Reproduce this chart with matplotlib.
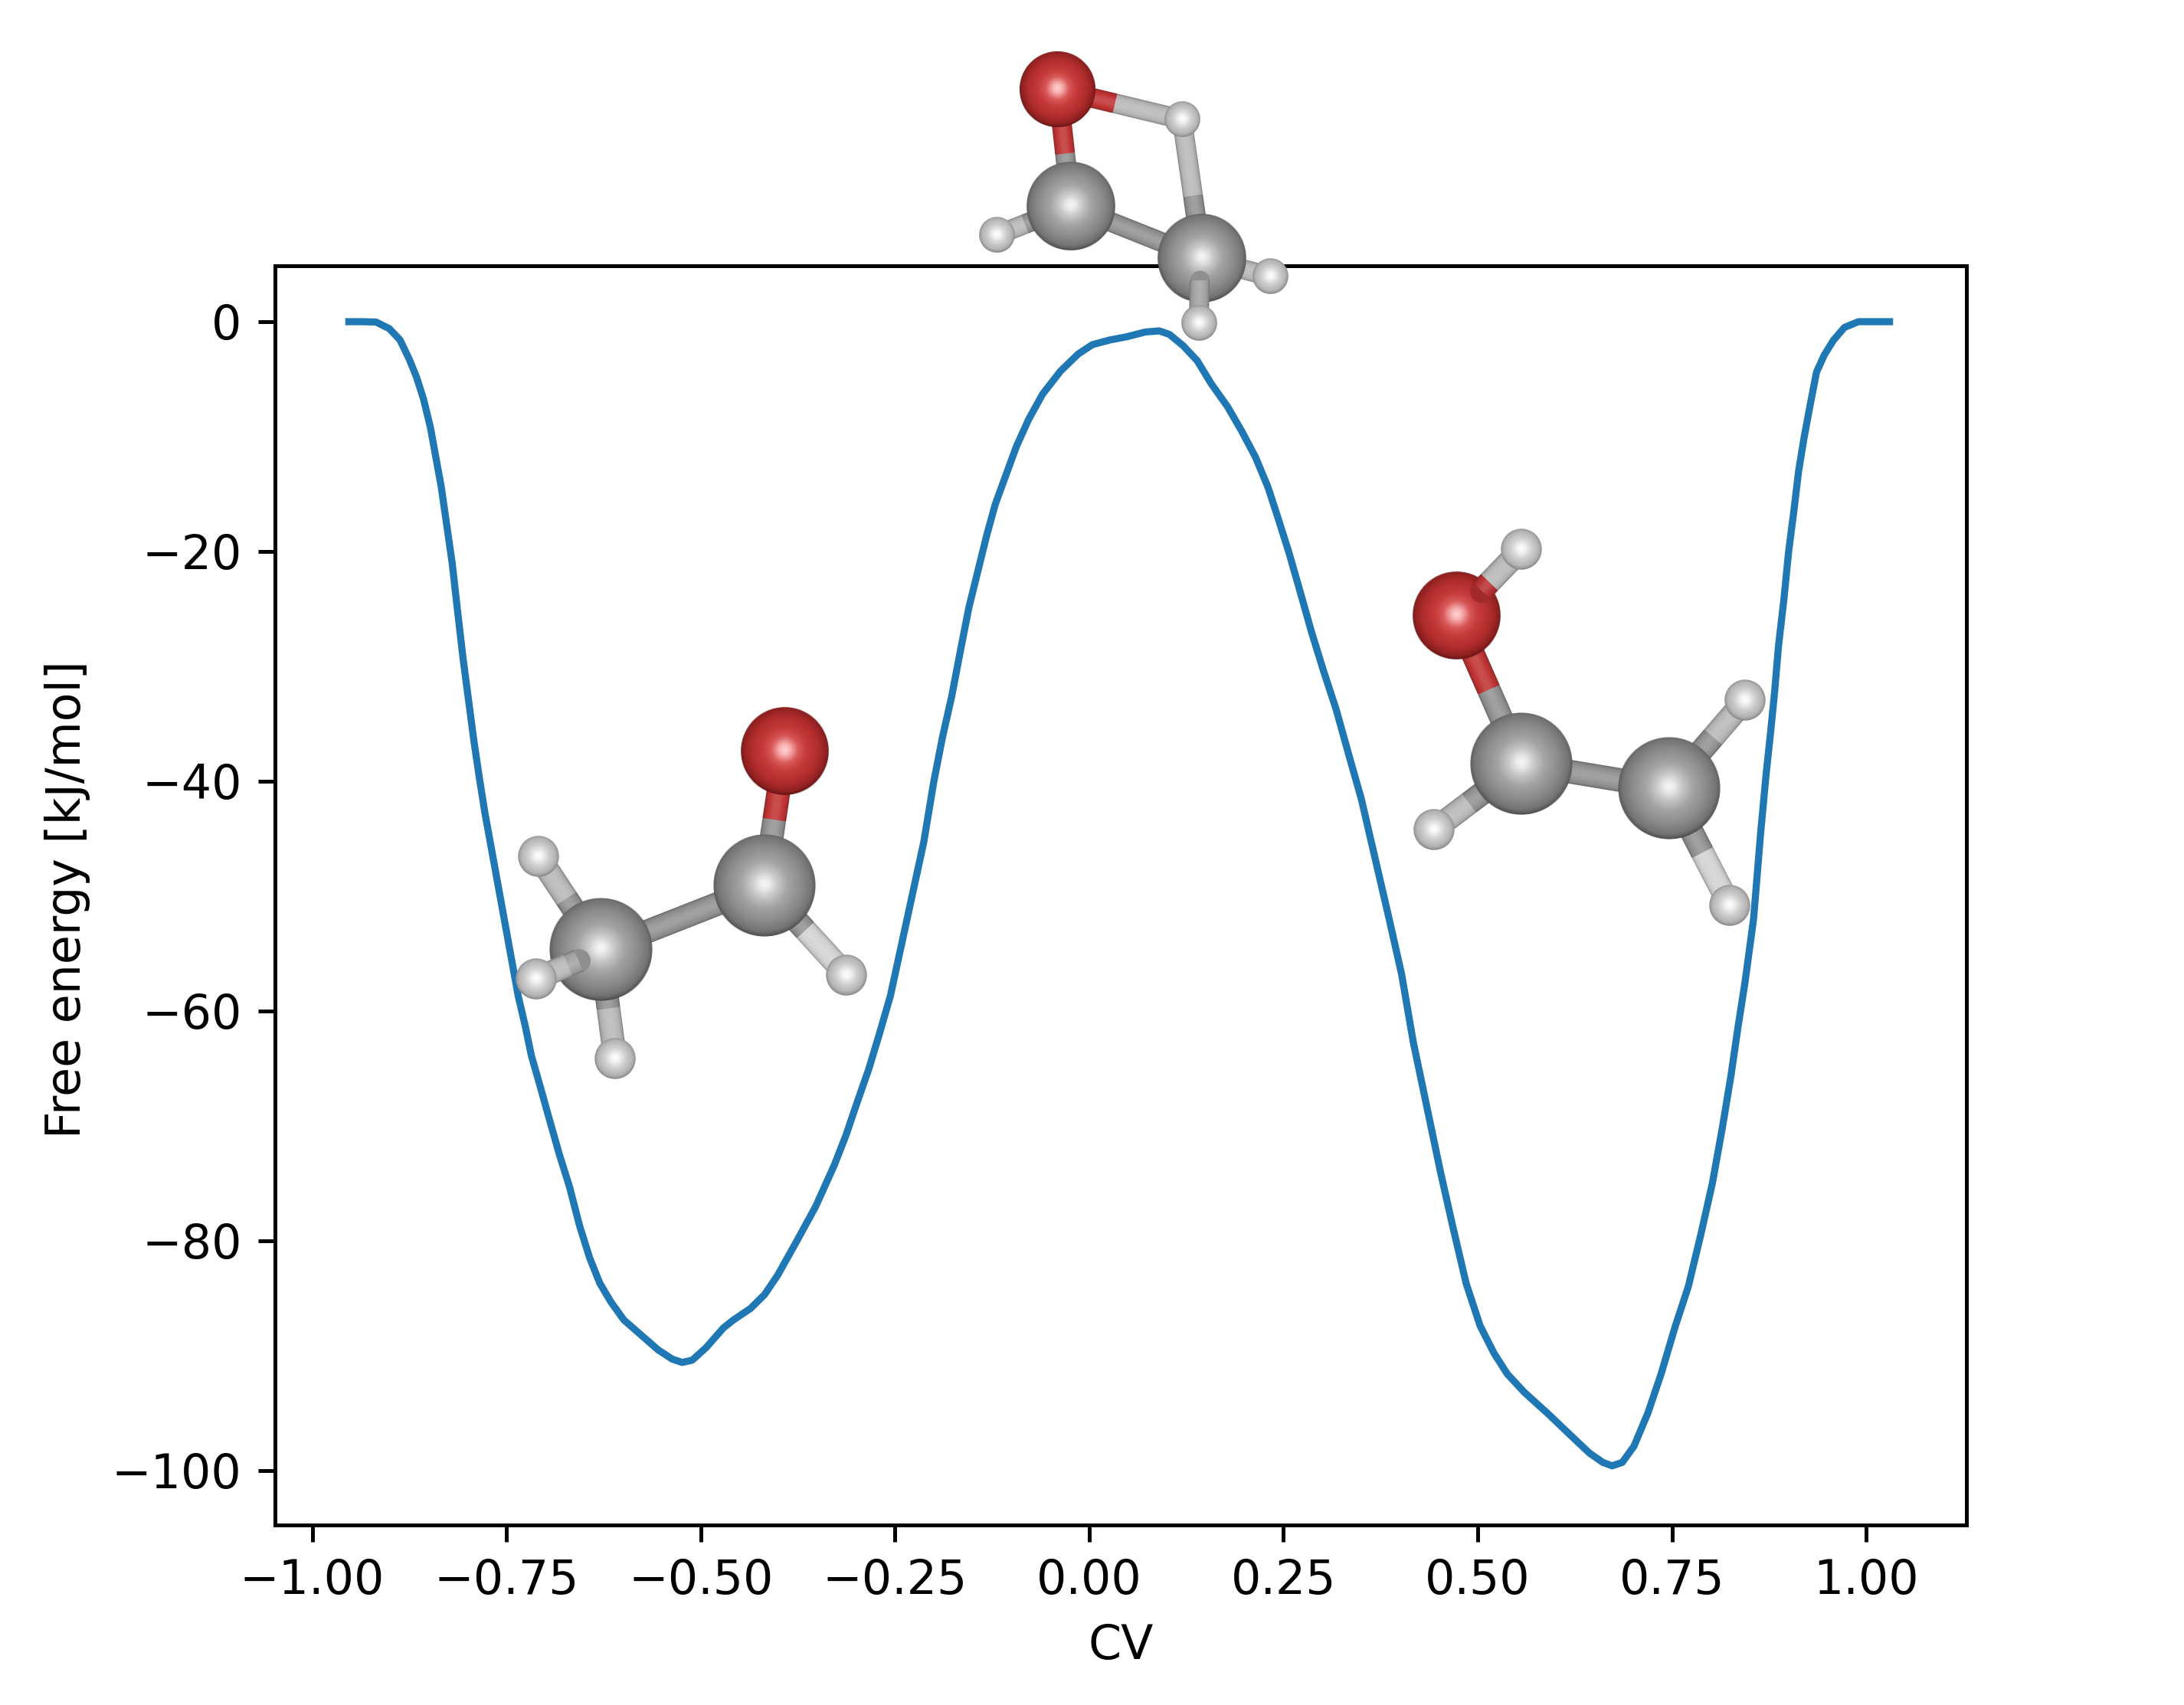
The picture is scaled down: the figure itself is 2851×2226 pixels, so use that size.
import numpy as np
import matplotlib
matplotlib.use('Agg')
import matplotlib.pyplot as plt
from matplotlib.colors import LinearSegmentedColormap, to_rgb

# free energy profile
cv = [-0.953, -0.936, -0.918, -0.901, -0.887, -0.875, -0.866, -0.857, -0.848, -0.841,
      -0.834, -0.827, -0.820, -0.813, -0.806, -0.799, -0.792, -0.785, -0.778, -0.771,
      -0.735, -0.726, -0.718, -0.707, -0.695, -0.682, -0.669, -0.656, -0.643, -0.630,
      -0.616, -0.599, -0.577, -0.555, -0.537, -0.524, -0.511, -0.493, -0.471, -0.458,
      -0.436, -0.418, -0.401, -0.377, -0.352, -0.328, -0.313, -0.300, -0.284, -0.271,
      -0.256, -0.213, -0.200, -0.189, -0.177, -0.166, -0.155, -0.143, -0.132, -0.121,
      -0.107, -0.094, -0.078, -0.060, -0.037, -0.014, 0.004, 0.026, 0.049, 0.072,
      0.090, 0.103, 0.121, 0.139, 0.157, 0.178, 0.196, 0.214, 0.230, 0.243,
      0.257, 0.271, 0.286, 0.302, 0.318, 0.334, 0.350, 0.363, 0.386, 0.402,
      0.417, 0.435, 0.452, 0.468, 0.485, 0.503, 0.521, 0.538, 0.560, 0.591,
      0.622, 0.644, 0.661, 0.673, 0.686, 0.701, 0.719, 0.736, 0.754, 0.771,
      0.787, 0.802, 0.815, 0.826, 0.835, 0.844, 0.855, 0.864, 0.871, 0.877,
      0.882, 0.887, 0.894, 0.900, 0.907, 0.913, 0.920, 0.928, 0.936, 0.946,
      0.958, 0.972, 0.990, 1.013, 1.030]
free_energy = [0.0, 0.0, -0.03, -0.6, -1.6, -3.3, -4.8, -6.7, -9.2, -11.8,
               -14.4, -17.7, -21.0, -25.2, -29.3, -32.9, -36.5, -39.7, -42.7, -45.3,
               -58.7, -61.3, -63.9, -66.5, -69.4, -72.5, -75.3, -78.7, -81.5, -83.7,
               -85.3, -86.9, -88.2, -89.5, -90.3, -90.6, -90.4, -89.3, -87.6, -86.9,
               -85.9, -84.7, -83.0, -80.1, -77.0, -73.4, -70.8, -68.2, -65.1, -62.2,
               -58.7, -45.3, -40.0, -36.2, -32.6, -28.7, -24.9, -21.6, -18.6, -15.9,
               -13.3, -10.9, -8.5, -6.3, -4.3, -2.8, -2.0, -1.6, -1.3, -0.9,
               -0.8, -1.1, -2.1, -3.4, -5.4, -7.4, -9.5, -11.8, -14.4, -17.1,
               -20.1, -23.4, -27.0, -30.5, -33.8, -37.7, -41.5, -45.3, -52.0, -56.8,
               -62.7, -68.5, -74.0, -78.8, -83.7, -87.4, -89.8, -91.6, -93.2, -95.1,
               -97.1, -98.5, -99.3, -99.6, -99.3, -97.9, -95.0, -91.6, -87.5, -84.0,
               -79.5, -75.0, -70.1, -65.6, -61.4, -57.5, -52.0, -44.6, -39.5, -35.7,
               -32.3, -28.3, -24.2, -20.1, -16.4, -13.0, -10.1, -7.2, -4.4, -2.9,
               -1.6, -0.5, 0.0, 0.0, 0.0]

W, H = 2851, 2226
DPI = 445

# sphere shading: (radius fraction, colour)
shade_c = [(0, '#f8f8f8'), (0.1, '#eaeaea'), (0.25, '#c8c8c8'), (0.45, '#a4a4a4'),
           (0.72, '#8a8a8a'), (0.9, '#747474'), (0.97, '#5c5c5c'), (1, '#404040')]
shade_o = [(0, '#ffd4d4'), (0.12, '#f8b0b0'), (0.3, '#d85858'), (0.48, '#c63a3a'),
           (0.75, '#b02c2c'), (0.93, '#8c2020'), (1, '#641212')]
shade_h = [(0, '#ffffff'), (0.18, '#f4f4f4'), (0.5, '#cfcfcf'), (0.82, '#b4b4b4'),
           (0.95, '#969696'), (1, '#808080')]
shades = {'C': shade_c, 'O': shade_o, 'H': shade_h}
stick = {'C': '#929292', 'O': '#c03434', 'H': '#b8b8b8', 'W': '#d2d2d2', 'S': '#a2a2a2', 'R': '#b83030'}


def draw_atom(ax, x, y, kind, r, z):
    n = int(2 * r) + 2
    u = np.linspace(-1.03, 1.03, n)
    xx, yy = np.meshgrid(u, u)
    d = np.hypot(xx, yy)
    # highlight sits a little above the centre
    dh = np.clip(np.hypot(xx, yy + 0.03) / 1.03, 0, 1)
    cmap = LinearSegmentedColormap.from_list(kind, shades[kind])
    rgba = cmap(dh)
    rgba[..., 3] = np.clip((1.0 - d) * r + 0.5, 0, 1)
    k = 1.03 * r
    ax.imshow(rgba, extent=(x - k, x + k, y + k, y - k), interpolation='bilinear',
              aspect='auto', zorder=z)


def shaded(col, f):
    col = np.array(to_rgb(col))
    if f <= 1:
        return tuple(col * f)
    return tuple(col + (1 - col) * (f - 1))


def draw_piece(ax, p0, p1, col, width, z):
    # cylinder look: stacked strokes, dark at the rim and light in the middle
    xs, ys = [p0[0], p1[0]], [p0[1], p1[1]]
    widths = [1.0, 0.93, 0.84, 0.72, 0.58, 0.42, 0.26]
    factors = [0.74, 0.85, 0.93, 0.98, 1.03, 1.08, 1.13]
    for i, (w, f) in enumerate(zip(widths, factors)):
        ax.plot(xs, ys, color=shaded(col, f), lw=width * w * 72 / DPI,
                solid_capstyle='butt', zorder=z + i * 0.01)


def draw_bond(ax, a, b, ka, kb, width, z, frac=0.5, cap=False):
    # a and b are the bond ends, colour changes at frac
    a = np.array(a, float)
    b = np.array(b, float)
    m = a + (b - a) * frac
    if cap:
        ax.plot([a[0]], [a[1]], 'o', color=shaded(stick[ka], 0.88), mew=0,
                ms=width * 72 / DPI, zorder=z)
    draw_piece(ax, a, m, stick[ka], width, z)
    draw_piece(ax, m, b, stick[kb], width, z)


fig = plt.figure(figsize=(W / DPI, H / DPI), dpi=DPI)
ax = fig.add_axes([359 / W, 1 - 1991 / H, (2567 - 359) / W, (1991 - 346.5) / H])
ax.plot(cv, free_energy, color='#1f77b4', lw=1.5)
ax.set_xlim(-1.048, 1.129)
ax.set_ylim(-104.75, 4.9)
ax.set_xticks([-1.0, -0.75, -0.5, -0.25, 0.0, 0.25, 0.5, 0.75, 1.0])
ax.set_xlabel('CV')
ax.set_ylabel('Free energy [kJ/mol]', labelpad=4.6, y=0.4967)

# overlay in pixel coordinates for the ball and stick pictures
over = fig.add_axes([0, 0, 1, 1], zorder=5)
over.patch.set_alpha(0)
over.axis('off')

# top molecule
o, hb, c1, c2 = (1381, 117), (1543, 156), (1398, 269), (1569, 337)
hl, hr, hd = (1301, 307), (1658, 361), (1565, 422)
draw_bond(over, o, hb, 'O', 'H', 26, 1, 0.46)
draw_bond(over, o, c1, 'O', 'C', 26, 1, 0.55)
draw_bond(over, hb, c2, 'H', 'C', 26, 1, 0.55)
draw_bond(over, c1, c2, 'C', 'C', 26, 1)
draw_bond(over, c1, hl, 'C', 'H', 26, 1, 0.62)
draw_bond(over, c2, hr, 'C', 'H', 26, 1, 0.6)
draw_atom(over, *o, 'O', 50, 2)
draw_atom(over, *c1, 'C', 58, 2)
draw_atom(over, *c2, 'C', 58, 2)
draw_bond(over, (1566, 366), hd, 'S', 'S', 26, 3, 0.3, cap=True)
for p in (hb, hl, hr, hd):
    draw_atom(over, *p, 'H', 23.5, 4)

# left molecule
o, c1, c2 = (1024, 981), (998, 1156), (784, 1240)
hu, hl, hd, hr = (703, 1118), (700, 1278), (803, 1382), (1105, 1273)
draw_bond(over, o, c1, 'O', 'C', 31, 1, 0.51)
draw_bond(over, c1, c2, 'C', 'C', 31, 1)
draw_bond(over, c2, hu, 'C', 'H', 31, 1, 0.55)
draw_bond(over, c2, hd, 'C', 'H', 31, 1, 0.54)
draw_bond(over, c1, hr, 'C', 'W', 31, 1, 0.5)
draw_atom(over, *o, 'O', 57.7, 2)
draw_atom(over, *c1, 'C', 66.7, 2)
draw_atom(over, *c2, 'C', 67, 2)
draw_bond(over, (755, 1254), hl, 'S', 'H', 31, 3, 0.25, cap=True)
for p in (hu, hl, hd, hr):
    draw_atom(over, *p, 'H', 27, 4)

# right molecule
o, ho, c1, c2 = (1901, 804), (1986, 717), (1986, 997), (2179, 1029)
hl, hu, hd = (1872, 1083), (2278, 914), (2258, 1182)
draw_bond(over, o, c1, 'O', 'C', 31, 1, 0.5)
draw_bond(over, c1, c2, 'C', 'C', 31, 1)
draw_bond(over, c1, hl, 'C', 'H', 31, 1, 0.6)
draw_bond(over, c2, hu, 'C', 'H', 31, 1, 0.58)
draw_bond(over, c2, hd, 'C', 'W', 31, 1, 0.55)
draw_atom(over, *o, 'O', 57.4, 2)
draw_atom(over, *c1, 'C', 66.7, 2)
draw_atom(over, *c2, 'C', 66.7, 2)
draw_bond(over, (1934, 771), ho, 'R', 'H', 31, 3, 0.2, cap=True)
for p in (ho, hl, hu, hd):
    draw_atom(over, *p, 'H', 27, 4)

over.set_xlim(0, W)
over.set_ylim(H, 0)

fig.savefig('out.png', dpi=DPI)
